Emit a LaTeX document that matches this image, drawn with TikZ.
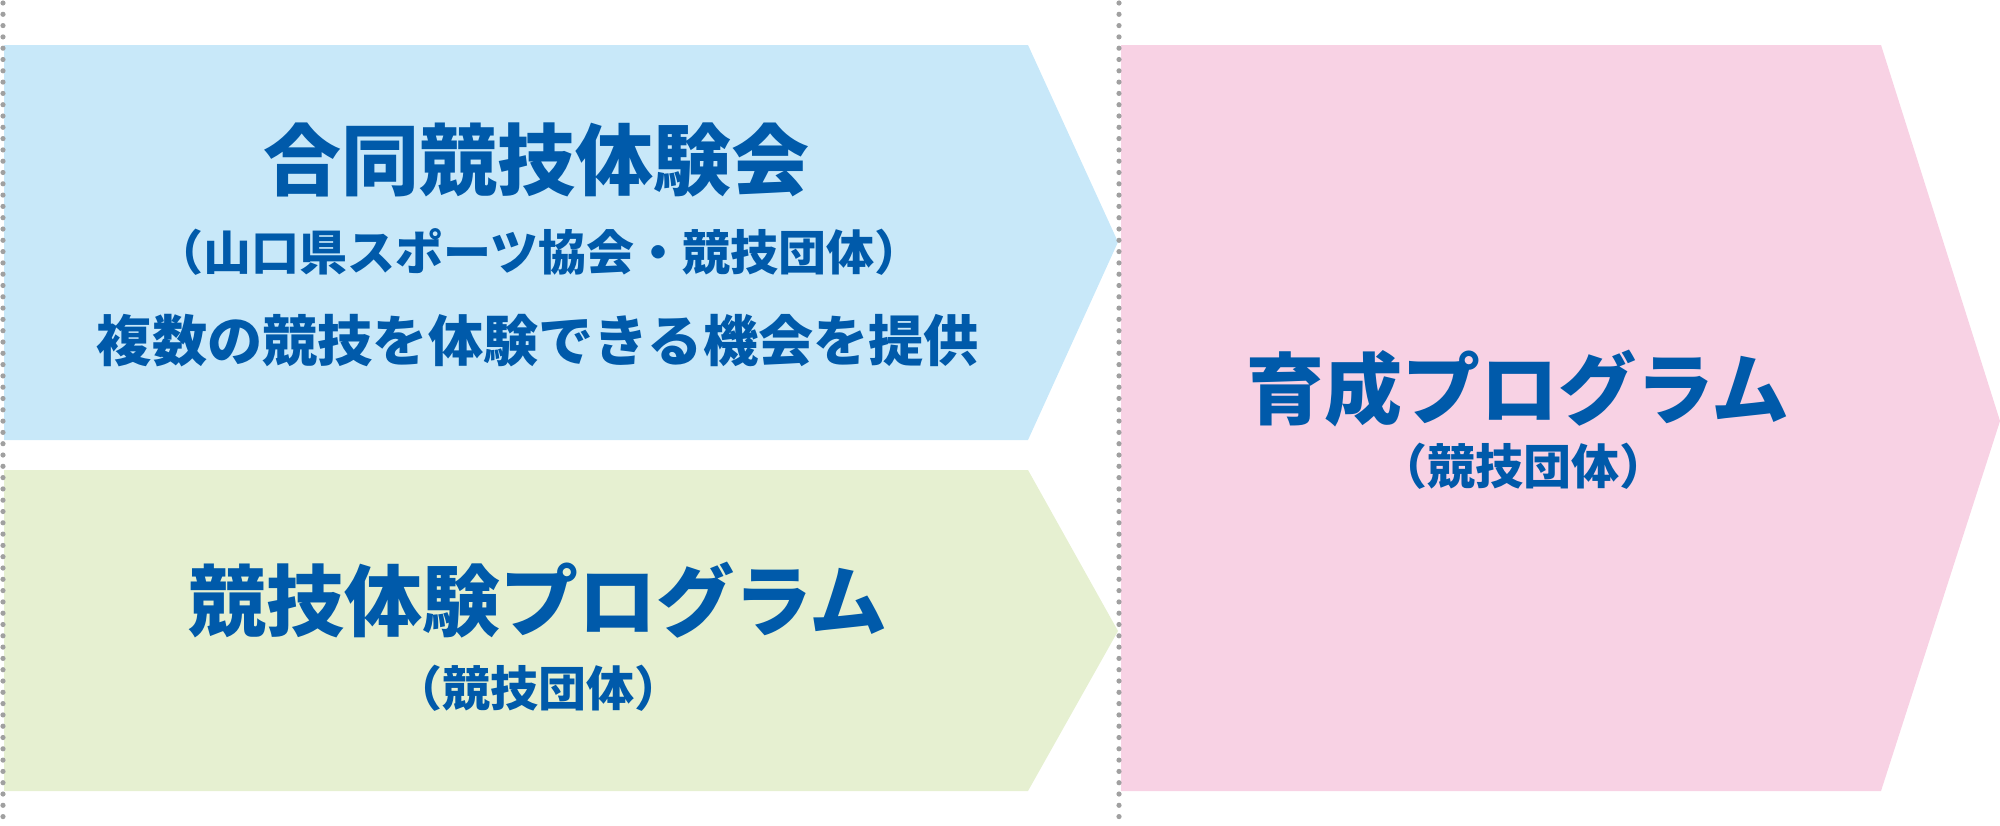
\documentclass[tikz,border=0pt]{standalone}
\usepackage{fontspec}
\newfontfamily\jpfont{Noto Sans CJK JP Black}
\definecolor{jointblue}{RGB}{200,232,249}
\definecolor{trialgreen}{RGB}{230,240,209}
\definecolor{trainpink}{RGB}{248,210,228}
\definecolor{textblue}{RGB}{0,90,170}
\definecolor{dotgray}{RGB}{160,160,160}

\begin{document}
\begin{tikzpicture}[
	x=0.5pt, y=-0.5pt,
	title/.style={text=textblue, inner sep=0pt, font=\jpfont\fontsize{39}{44}\selectfont},
	org/.style={text=textblue, inner sep=0pt, font=\jpfont\fontsize{24}{28}\selectfont},
	desc/.style={text=textblue, inner sep=0pt, font=\jpfont\fontsize{27.6}{32}\selectfont},
	divider/.style={draw=dotgray, line width=2.6pt, line cap=round, dash pattern=on 0pt off 5.65pt},
	]
	\useasboundingbox (0,0) rectangle (2000,825);
	
	%-----------------------
	% Customizable positions
	%-----------------------
	\def\xleft{4}
	\def\xcorner{1028}
	\def\xtip{1118}
	\def\xmid{1119}
	\def\xpink{1121}
	\def\xpcorner{1881}
	
	%-----------------------
	% Arrow shapes
	%-----------------------
	\fill[jointblue] (\xleft,45) -- (\xcorner,45) -- (\xtip,242) -- (\xcorner,440) -- (\xleft,440) -- cycle;
	\fill[trialgreen] (\xleft,470) -- (\xcorner,470) -- (\xtip,631) -- (\xcorner,791) -- (\xleft,791) -- cycle;
	\fill[trainpink] (\xpink,45) -- (\xpcorner,45) -- (2000,421) -- (\xpcorner,791) -- (\xpink,791) -- cycle;
	
	%-----------------------
	% Dotted dividers
	%-----------------------
	\draw[divider] (3,3) -- (3,825);
	\draw[divider] (\xmid,3) -- (\xmid,825);
	
	%-----------------------
	% Texts
	%-----------------------
	\node[title] (joint) at (536,160) {合同競技体験会};
	\node[org] (jointorg) at (539,252) {（山口県スポーツ協会・競技団体）};
	\node[desc] (jointdesc) at (538,341) {複数の競技を体験できる機会を提供};
	
	\node[title] (trial) at (538,600) {競技体験プログラム};
	\node[org] (trialorg) at (538,688) {（競技団体）};
	
	\node[title] (train) at (1518,389) {育成プログラム};
	\node[org] (trainorg) at (1523,466) {（競技団体）};
	
\end{tikzpicture}
\end{document}
